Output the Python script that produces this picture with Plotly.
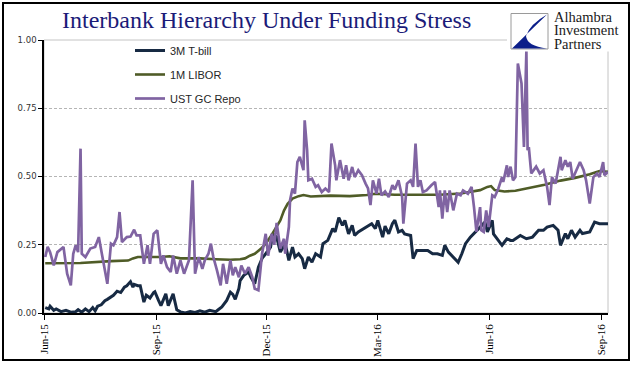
import plotly.graph_objects as go

# ---------------- data ----------------
tbill_dates = ["2015-06-02","2015-06-05","2015-06-06","2015-06-09","2015-06-11","2015-06-15","2015-06-19","2015-06-23",
"2015-06-27","2015-06-29","2015-07-02","2015-07-05","2015-07-08","2015-07-11","2015-07-13","2015-07-15","2015-07-18",
"2015-07-21","2015-07-23","2015-07-26","2015-07-28","2015-07-31","2015-08-03","2015-08-06","2015-08-08","2015-08-11",
"2015-08-13","2015-08-14","2015-08-17","2015-08-19","2015-08-22","2015-08-24","2015-08-27","2015-08-30","2015-08-31",
"2015-09-03","2015-09-05","2015-09-09","2015-09-11","2015-09-15","2015-09-18","2015-09-21","2015-09-25","2015-09-29",
"2015-10-03","2015-10-07","2015-10-11","2015-10-15","2015-10-20","2015-10-22","2015-10-25","2015-10-29","2015-11-01",
"2015-11-03","2015-11-05","2015-11-08","2015-11-09","2015-11-12","2015-11-16","2015-11-18","2015-11-21","2015-11-24",
"2015-11-27","2015-11-30","2015-12-04","2015-12-06","2015-12-09","2015-12-12","2015-12-16","2015-12-19","2015-12-22",
"2015-12-24","2015-12-27","2015-12-30","2016-01-01","2016-01-04","2016-01-07","2016-01-10","2016-01-14","2016-01-16",
"2016-01-20","2016-01-24","2016-01-26","2016-01-29","2016-02-01","2016-02-03","2016-02-06","2016-02-09","2016-02-11",
"2016-02-14","2016-02-18","2016-02-22","2016-02-25","2016-02-28","2016-03-01","2016-03-05","2016-03-07","2016-03-10",
"2016-03-13","2016-03-15","2016-03-18","2016-03-21","2016-03-23","2016-03-28","2016-03-30","2016-04-02","2016-04-06",
"2016-04-11","2016-04-15","2016-04-19","2016-04-23","2016-04-25","2016-04-28","2016-05-02","2016-05-06","2016-05-09",
"2016-05-12","2016-05-16","2016-05-20","2016-05-24","2016-05-28","2016-05-30","2016-06-03","2016-06-04","2016-06-08",
"2016-06-11","2016-06-13","2016-06-15","2016-06-18","2016-06-20","2016-06-26","2016-07-01","2016-07-06","2016-07-11",
"2016-07-15","2016-07-18","2016-07-23","2016-07-27","2016-07-29","2016-08-02","2016-08-04","2016-08-07","2016-08-10",
"2016-08-14","2016-08-16","2016-08-22","2016-08-26","2016-08-30","2016-09-06"]
tbill = [0.02,0.015,0.025,0.01,0.015,0.005,0.01,0.003,
0.005,0.012,0.003,0.015,0.005,0.02,0.008,0.025,0.03,
0.045,0.05,0.06,0.065,0.08,0.075,0.095,0.1,0.115,
0.095,0.105,0.1,0.1,0.04,0.065,0.055,0.075,0.078,
0.046,0.027,0.07,0.027,0.07,0.012,0.004,0.0,0.005,
0.002,0.008,0.003,0.01,0.005,0.012,0.022,0.046,0.076,
0.068,0.05,0.09,0.119,0.138,0.15,0.13,0.107,0.168,
0.2,0.217,0.241,0.29,0.278,0.223,0.254,0.193,0.241,
0.205,0.217,0.199,0.162,0.205,0.186,0.217,0.205,0.254,
0.266,0.309,0.297,0.349,0.321,0.339,0.29,0.321,0.284,
0.297,0.309,0.321,0.327,0.309,0.339,0.278,0.318,0.29,
0.327,0.34,0.297,0.303,0.29,0.284,0.199,0.229,0.229,
0.229,0.217,0.217,0.211,0.248,0.223,0.205,0.186,0.217,
0.254,0.278,0.297,0.315,0.333,0.297,0.339,0.29,0.265,
0.248,0.26,0.272,0.266,0.266,0.284,0.272,0.278,0.303,
0.303,0.315,0.321,0.303,0.248,0.291,0.272,0.303,0.278,
0.303,0.291,0.297,0.333,0.327,0.327]

libor_dates = ["2015-06-02","2015-07-01","2015-07-26","2015-08-09","2015-08-13","2015-08-17","2015-09-05","2015-09-12",
"2015-09-21","2015-10-07","2015-10-20","2015-11-01","2015-11-09","2015-11-13","2015-11-17","2015-11-21","2015-11-26",
"2015-11-30","2015-12-04","2015-12-08","2015-12-12","2015-12-15","2015-12-18","2015-12-22","2015-12-27","2015-12-31",
"2016-01-06","2016-01-22","2016-02-07","2016-02-21","2016-02-28","2016-03-15","2016-04-05","2016-04-21","2016-05-08",
"2016-05-16","2016-05-24","2016-05-30","2016-06-02","2016-06-05","2016-06-13","2016-06-22","2016-07-04","2016-07-16",
"2016-07-29","2016-08-10","2016-08-22","2016-08-30","2016-09-06"]
libor = [0.182,0.183,0.19,0.192,0.2,0.205,0.205,0.208,
0.2,0.2,0.197,0.195,0.197,0.2,0.21,0.217,0.235,
0.254,0.28,0.31,0.339,0.375,0.4,0.419,0.428,0.432,
0.427,0.43,0.428,0.432,0.437,0.433,0.433,0.433,0.438,
0.445,0.45,0.462,0.465,0.45,0.445,0.448,0.458,0.47,
0.485,0.495,0.508,0.52,0.517]

repo_dates = ["2015-06-02","2015-06-04","2015-06-06","2015-06-09","2015-06-12","2015-06-15","2015-06-17","2015-06-20",
"2015-06-23","2015-06-25","2015-06-27","2015-06-29","2015-07-01","2015-07-02","2015-07-05","2015-07-09","2015-07-13",
"2015-07-16","2015-07-19","2015-07-23","2015-07-26","2015-07-28","2015-07-31","2015-08-02","2015-08-04","2015-08-08",
"2015-08-11","2015-08-14","2015-08-16","2015-08-19","2015-08-22","2015-08-25","2015-08-27","2015-08-30","2015-09-02",
"2015-09-03","2015-09-05","2015-09-07","2015-09-10","2015-09-13","2015-09-15","2015-09-18","2015-09-21","2015-09-24",
"2015-09-28","2015-10-01","2015-10-03","2015-10-06","2015-10-09","2015-10-11","2015-10-14","2015-10-16","2015-10-18",
"2015-10-21","2015-10-24","2015-10-26","2015-10-29","2015-11-01","2015-11-03","2015-11-05","2015-11-08","2015-11-10",
"2015-11-13","2015-11-16","2015-11-19","2015-11-21","2015-11-24","2015-11-27","2015-11-30","2015-12-02","2015-12-05",
"2015-12-07","2015-12-09","2015-12-12","2015-12-15","2015-12-16","2015-12-19","2015-12-20","2015-12-22","2015-12-24",
"2015-12-26","2015-12-28","2015-12-31","2016-01-01","2016-01-03","2016-01-04","2016-01-07","2016-01-10","2016-01-12",
"2016-01-15","2016-01-18","2016-01-21","2016-01-23","2016-01-26","2016-01-27","2016-01-30","2016-02-02","2016-02-04",
"2016-02-06","2016-02-09","2016-02-11","2016-02-14","2016-02-17","2016-02-20","2016-02-22","2016-02-24","2016-02-26",
"2016-02-29","2016-03-02","2016-03-04","2016-03-07","2016-03-10","2016-03-13","2016-03-15","2016-03-18","2016-03-21",
"2016-03-22","2016-03-25","2016-03-28","2016-03-30","2016-04-01","2016-04-03","2016-04-05","2016-04-07","2016-04-10",
"2016-04-14","2016-04-17","2016-04-20","2016-04-21","2016-04-23","2016-04-25","2016-04-27","2016-04-29","2016-05-02",
"2016-05-05","2016-05-08","2016-05-10","2016-05-14","2016-05-17","2016-05-19","2016-05-21","2016-05-24","2016-05-25",
"2016-05-27","2016-05-29","2016-05-31","2016-06-03","2016-06-05","2016-06-08","2016-06-11","2016-06-12","2016-06-15",
"2016-06-16","2016-06-18","2016-06-20","2016-06-22","2016-06-24","2016-06-27","2016-06-29","2016-07-01","2016-07-02",
"2016-07-03","2016-07-05","2016-07-09","2016-07-12","2016-07-15","2016-07-18","2016-07-20","2016-07-22","2016-07-25",
"2016-07-29","2016-07-30","2016-08-02","2016-08-04","2016-08-06","2016-08-08","2016-08-11","2016-08-14","2016-08-17",
"2016-08-19","2016-08-22","2016-08-25","2016-08-28","2016-08-30","2016-09-02","2016-09-03","2016-09-06"]
repo = [0.205,0.242,0.223,0.174,0.223,0.236,0.242,0.144,
0.101,0.217,0.248,0.223,0.602,0.217,0.205,0.236,0.242,
0.278,0.205,0.107,0.254,0.248,0.278,0.37,0.26,0.278,
0.28,0.305,0.284,0.284,0.18,0.248,0.18,0.29,0.303,
0.254,0.18,0.211,0.168,0.15,0.211,0.144,0.193,0.144,
0.193,0.486,0.144,0.205,0.162,0.193,0.217,0.254,0.205,
0.156,0.101,0.18,0.107,0.193,0.138,0.168,0.131,0.174,
0.144,0.168,0.131,0.089,0.083,0.217,0.29,0.21,0.29,
0.25,0.33,0.236,0.272,0.217,0.315,0.413,0.456,0.437,
0.553,0.572,0.523,0.706,0.596,0.486,0.492,0.462,0.468,
0.443,0.456,0.443,0.621,0.541,0.486,0.56,0.492,0.541,
0.486,0.535,0.498,0.523,0.505,0.474,0.456,0.395,0.486,
0.437,0.492,0.431,0.445,0.425,0.468,0.452,0.486,0.425,
0.327,0.474,0.486,0.462,0.621,0.462,0.486,0.443,0.449,
0.468,0.48,0.388,0.449,0.346,0.449,0.37,0.449,0.376,
0.437,0.431,0.449,0.437,0.462,0.388,0.297,0.388,0.303,
0.297,0.376,0.315,0.431,0.425,0.456,0.498,0.48,0.541,
0.498,0.536,0.486,0.498,0.914,0.841,0.608,0.96,0.596,
0.608,0.511,0.536,0.511,0.523,0.462,0.395,0.498,0.474,
0.572,0.523,0.56,0.536,0.553,0.492,0.523,0.553,0.523,
0.486,0.401,0.498,0.511,0.498,0.553,0.505,0.517]

series_names = ["3M T-bill", "1M LIBOR", "UST GC Repo"]
series_colors = ["#172a43", "#4f5c27", "#8064a2"]
y_ticks = [0, 0.25, 0.5, 0.75, 1.0]
title_text = "Interbank Hierarchy Under Funding Stress"
logo_lines = ["Alhambra", "Investment", "Partners"]

# ---------------- layout helpers (pixel -> paper) ----------------
W, H = 641, 375
L, R, T, B = 44, 608, 40, 313
def px(x):
    return (x - L) / (R - L)
def py(y):
    return (B - y) / (B - T)

fig = go.Figure()
for name, xs, ys, col, w, g in [
    (series_names[0], tbill_dates, tbill, series_colors[0], 3, "a"),
    (series_names[1], libor_dates, libor, series_colors[1], 2.6, "b"),
    (series_names[2], repo_dates, repo, series_colors[2], 2.7, "c"),
]:
    fig.add_trace(go.Scatter(x=xs, y=ys, mode="lines", name=name, legendgroup=g,
                             line=dict(color=col, width=w), hoverinfo="skip"))

shapes = [
    dict(type="rect", xref="paper", yref="paper", x0=0, x1=1, y0=0, y1=1,
         line=dict(color="#c4c4c4", width=1), layer="below"),
    dict(type="rect", xref="paper", yref="paper", x0=px(507), x1=px(627.5), y0=py(51.5), y1=py(4.5),
         fillcolor="white", line=dict(width=0), layer="above"),
    dict(type="rect", xref="paper", yref="paper", x0=px(3), x1=px(629), y0=py(360), y1=py(3),
         line=dict(color="black", width=2), layer="above"),
    dict(type="rect", xref="paper", yref="paper", x0=px(511), x1=px(548), y0=py(49), y1=py(13.5),
         fillcolor="white", line=dict(color="#9a9a9a", width=1), layer="above"),
]
path = "M {:.5f},{:.5f} L {:.5f},{:.5f} L {:.5f},{:.5f} Q {:.5f},{:.5f} {:.5f},{:.5f} Q {:.5f},{:.5f} {:.5f},{:.5f} Z".format(
    px(547), py(14.5), px(512), py(48.5), px(547), py(48.5),
    px(527), py(46), px(526), py(36), px(530), py(24), px(547), py(14.5))
shapes.append(dict(type="path", xref="paper", yref="paper", path=path, fillcolor="#0c1f8a",
                   line=dict(width=0), layer="above"))

annotations = [
    dict(xref="paper", yref="paper", x=px(266), y=py(20), text=title_text, showarrow=False,
         xanchor="center", yanchor="middle",
         font=dict(family="Liberation Serif, Times New Roman, serif", size=24, color="#1b1b78")),
]
for i, t in enumerate(logo_lines):
    annotations.append(dict(xref="paper", yref="paper", x=px(552), y=py(17 + 13.3 * i), text=t,
                            showarrow=False, xanchor="left", yanchor="middle",
                            font=dict(family="Liberation Serif, Times New Roman, serif", size=14.5, color="#1a1a1a")))

fig.update_layout(
    width=W, height=H,
    margin=dict(l=L, r=W - R, t=T, b=H - B, pad=0),
    paper_bgcolor="white", plot_bgcolor="white",
    showlegend=True,
    legend=dict(x=px(130), y=py(36), xanchor="left", yanchor="top", bgcolor="rgba(0,0,0,0)",
                font=dict(family="Liberation Sans, Arial, sans-serif", size=11, color="#262626"),
                itemwidth=30, tracegroupgap=5, traceorder="grouped"),
    xaxis=dict(type="date", range=["2015-06-01", "2016-09-06"], tick0="2015-06-01", dtick="M3",
               tickformat="%b-%y", tickangle=-90, showline=True, linecolor="black", linewidth=1.5,
               ticks="outside", ticklen=5, tickcolor="black", tickwidth=1, showgrid=False, zeroline=False,
               tickfont=dict(family="Liberation Serif, Times New Roman, serif", size=11, color="black")),
    yaxis=dict(range=[0, 1], tickvals=y_ticks, tickformat=".2f", showline=True, linecolor="black",
               linewidth=1.5, ticks="outside", ticklen=4, tickcolor="black", tickwidth=1,
               showgrid=True, gridcolor="#b5b5b5", griddash="3px,2px", gridwidth=1, zeroline=False,
               tickfont=dict(family="DejaVu Sans, Verdana, sans-serif", size=8.5, color="#333333")),
    shapes=shapes, annotations=annotations,
)

fig.write_html("out.html", config={"displayModeBar": False},
               post_script="document.body.style.margin='0';document.body.style.overflow='hidden';")
